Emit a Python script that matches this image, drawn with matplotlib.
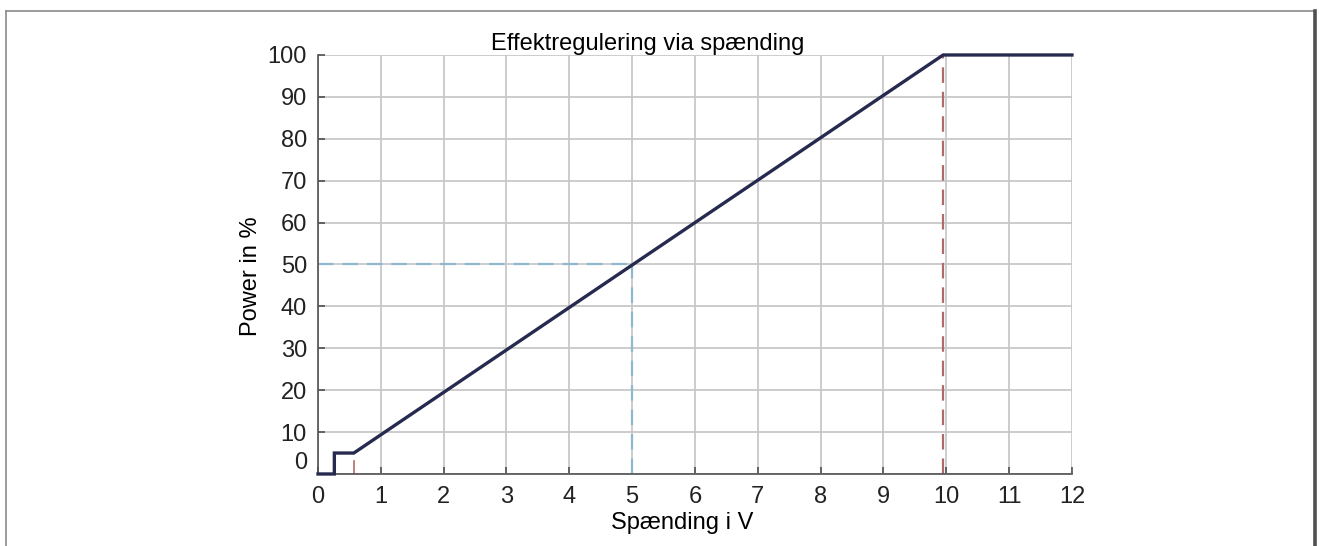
import matplotlib
matplotlib.use("Agg")
import matplotlib.pyplot as plt
from matplotlib.lines import Line2D
from matplotlib.transforms import ScaledTranslation

plt.rcParams['font.family'] = ['Liberation Sans', 'DejaVu Sans']

# Power curve (voltage in V, power in %)
volt = [0.0, 0.26, 0.26, 0.57, 9.95, 12.0]
power = [0.0, 0.0, 5.0, 5.0, 100.0, 100.0]

# Reference markers
mid_volt = 5.0
mid_power = 50.0
start_volt = 0.57
start_mark = 3.0
full_volt = 9.95
full_power = 100.0

xticks = list(range(0, 13))
yticks = list(range(0, 101, 10))

fig = plt.figure(figsize=(13.19, 5.46), dpi=100)
ax = fig.add_axes([0.2411, 0.1319, 0.5716, 0.7674])

ax.set_xlim(0, 12)
ax.set_ylim(0, 100)
ax.set_xticks(xticks)
ax.set_yticks(yticks)
ax.grid(True, color='#c8c8c8', linewidth=1.3)
ax.set_axisbelow(True)

for s in ['top', 'right']:
    ax.spines[s].set_visible(False)
for s in ['left', 'bottom']:
    ax.spines[s].set_color('#505050')
    ax.spines[s].set_linewidth(1.2)
ax.tick_params(direction='in', length=5, width=1.2, color='#505050',
               labelsize=17, labelcolor='#222222')
ax.tick_params(axis='x', pad=9)
ax.tick_params(axis='y', pad=8)

# Guide lines for the 50 % point
ax.plot([0, mid_volt], [mid_power, mid_power], color='#8fb8d0',
        linewidth=1.6, dashes=(7, 4), zorder=2)
ax.plot([mid_volt, mid_volt], [0, mid_power], color='#8fb8d0',
        linewidth=1.6, dashes=(7, 4), zorder=2)

# Start and full-power markers
ax.plot([start_volt, start_volt], [0, start_mark], color='#b06a6a',
        linewidth=1.2, zorder=2)
ax.plot([full_volt, full_volt], [0, full_power], color='#b06a6a',
        linewidth=1.6, dashes=(7, 4), zorder=2)

ax.plot(volt, power, color='#262a4e', linewidth=2.4, zorder=3,
        solid_joinstyle='miter', clip_on=False)

ax.set_title('Effektregulering via spænding', fontsize=17, pad=3, x=0.4377)
ax.set_xlabel('Spænding i V', fontsize=17)
ax.set_ylabel('Power in %', fontsize=17)
ax.xaxis.set_label_coords(0.4828, -0.090)
ax.yaxis.set_label_coords(-0.0743, 0.4726)

# Lift the zero label slightly
fig.canvas.draw()
lbl0 = ax.get_yticklabels()[0]
lbl0.set_transform(lbl0.get_transform() + ScaledTranslation(0, 13 / 100, fig.dpi_scale_trans))

# Figure frame
fig.add_artist(Line2D([6 / 1319, 6 / 1319], [0, 1 - 11 / 546], color='#8a8a8a',
                      linewidth=1.2, transform=fig.transFigure))
fig.add_artist(Line2D([6 / 1319, 1314 / 1319], [1 - 11 / 546, 1 - 11 / 546],
                      color='#8a8a8a', linewidth=1.2, transform=fig.transFigure))
fig.add_artist(Line2D([1314.5 / 1319, 1314.5 / 1319], [0, 1 - 11 / 546], color='#505050',
                      linewidth=2.6, transform=fig.transFigure))

fig.savefig('out.png', dpi=100)
